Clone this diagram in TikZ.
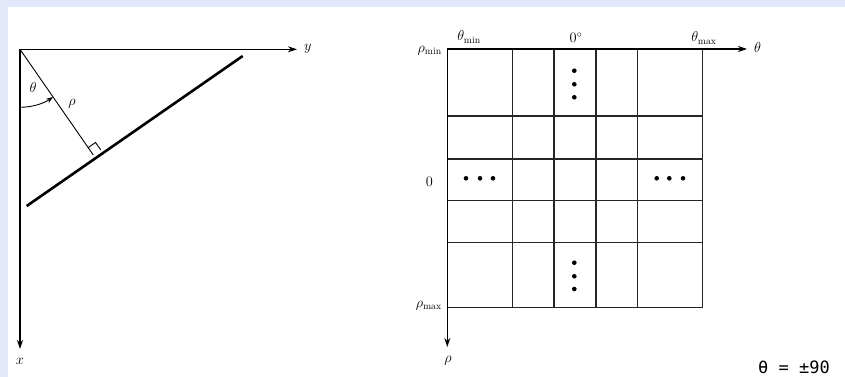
\documentclass[tikz,border=0pt]{standalone}
\usepackage{fontspec}
\newfontfamily\monofont{DejaVu Sans Mono}
\usetikzlibrary{arrows.meta,calc}
\definecolor{bgframe}{RGB}{226,232,250}
\tikzset{
  axis/.style={line width=1.3pt,-{Stealth[length=9pt,width=6pt]}},
  thin line/.style={line width=0.9pt},
  gridline/.style={line width=1.2pt,black!85},
  thick line/.style={line width=2.6pt},
  lbl/.style={inner sep=0pt,font=\fontsize{14}{16}\selectfont},
  dot/.style={circle,fill=black,inner sep=0pt,minimum size=4.6pt},
}
\begin{document}
\begin{tikzpicture}[x=1pt,y=1pt]
\useasboundingbox (0,0) rectangle (845,-377);
\clip (0,0) rectangle (845,-377);
\fill[bgframe] (0,0) rectangle (845,-377);
\fill[white] (8,-7) rectangle (845,-377);
% ---------- left diagram ----------
\coordinate (O) at (20,-49.3);
\coordinate (Y) at (297,-49.3);
\coordinate (X) at (20,-349);
\draw[axis] (O) -- (Y);
\draw[axis] (O) -- (X);
\node[lbl,anchor=west] (ylab) at (304,-49) {$y$};
\node[lbl] (xlab) at (20,-361) {$x$};
\coordinate (L1) at (26.7,-206);
\coordinate (L2) at (242.7,-56);
\draw[thick line] (L1) -- (L2);
\coordinate (F) at (93.3,-155);
\draw[thin line] (O) -- (F);
\draw[thin line] ($(F)+(-5.13,7.40)$) -- ++(7.39,5.13) -- ($(F)+(7.39,5.13)$);
\draw[thin line,-{Stealth[length=7pt,width=5pt]}] (20,-107.3) arc[start angle=-90,end angle=-55.3,radius=58];
\node[lbl] (thlab) at (33,-88) {$\theta$};
\node[lbl] (rholab) at (72,-104) {$\rho$};
% ---------- right diagram ----------
\def\xa{447.3}\def\xb{512.3}\def\xc{554}\def\xd{596}\def\xe{637.7}\def\xf{702.3}
\def\ya{-49}\def\yb{-116}\def\yc{-159}\def\yd{-200.3}\def\ye{-242.7}\def\yf{-307.7}
\coordinate (G) at (\xa,\ya);
\coordinate (T) at (747,\ya);
\coordinate (R) at (\xa,-347);
\foreach \x in {\xb,\xc,\xd,\xe,\xf} \draw[gridline] (\x,\ya) -- (\x,\yf);
\foreach \y in {\yb,\yc,\yd,\ye,\yf} \draw[gridline] (\xa,\y) -- (\xf,\y);
\draw[axis] (G) -- (T);
\draw[axis] (G) -- (R);
\node[lbl,anchor=west] (thaxis) at (754,-48) {$\theta$};
\node[lbl] (rhoaxis) at (448,-361) {$\rho$};
\node[lbl] (thmin) at (469,-37) {$\theta_{\mathrm{min}}$};
\node[lbl] (thzero) at (576,-38) {$0^\circ$};
\node[lbl] (thmax) at (704,-38) {$\theta_{\mathrm{max}}$};
\node[lbl,anchor=east] (rhomin) at (442,-51) {$\rho_{\mathrm{min}}$};
\node[lbl,anchor=east] (rhozero) at (433,-182) {$0$};
\node[lbl,anchor=east] (rhomax) at (442,-306) {$\rho_{\mathrm{max}}$};
\foreach \y in {70.7,84.3,97.3,262.7,276.3,289} \node[dot] at (574.3,-\y) {};
\foreach \x in {466,480,493,656.7,669.3,683} \node[dot] at (\x,-178.3) {};
\node[inner sep=0pt,anchor=base west,font=\monofont\fontsize{17}{20}\selectfont] (note) at (758,-373) {θ = ±90};
\end{tikzpicture}
\end{document}
